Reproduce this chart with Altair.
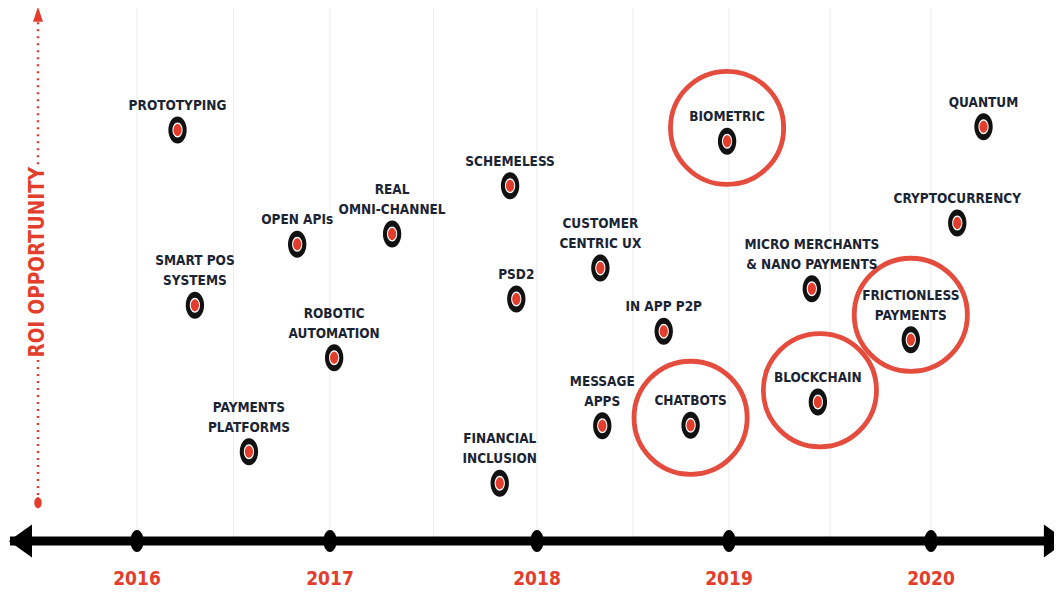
import altair as alt
import pandas as pd

# ---------------- data ----------------
labels = [
    "PROTOTYPING", "SMART POS\nSYSTEMS", "PAYMENTS\nPLATFORMS", "OPEN APIs",
    "ROBOTIC\nAUTOMATION", "REAL\nOMNI-CHANNEL", "SCHEMELESS", "PSD2",
    "FINANCIAL\nINCLUSION", "CUSTOMER\nCENTRIC UX", "MESSAGE\nAPPS",
    "IN APP P2P", "CHATBOTS", "BIOMETRIC", "MICRO MERCHANTS\n& NANO PAYMENTS",
    "BLOCKCHAIN", "FRICTIONLESS\nPAYMENTS", "CRYPTOCURRENCY", "QUANTUM",
]
time_pos = [
    2016.21, 2016.30, 2016.58, 2016.83,
    2017.02, 2017.30, 2017.87, 2017.90,
    2017.82, 2018.33, 2018.34,
    2018.66, 2018.80, 2018.99, 2019.41,
    2019.44, 2019.90, 2020.13, 2020.26,
]
roi = [
    77.4, 44.4, 16.8, 55.9,
    34.5, 57.8, 66.9, 45.6,
    10.9, 51.4, 21.7,
    39.5, 21.8, 75.3, 47.5,
    26.2, 37.9, 59.9, 78.0,
]

highlight_names = ["BIOMETRIC", "CHATBOTS", "BLOCKCHAIN", "FRICTIONLESS PAYMENTS"]
highlight_x = [2018.99, 2018.80, 2019.45, 2019.90]
highlight_y = [77.8, 23.2, 28.4, 42.6]

years = [2016, 2017, 2018, 2019, 2020]
grid_lines = [2016, 2016.5, 2017, 2017.5, 2018, 2018.5, 2019, 2019.5, 2020]

AXIS_START, AXIS_END = 2015.342, 2020.609
ARROW_LEFT, ARROW_RIGHT = 2015.396, 2020.616
ROI_AXIS_X = 2015.487
Y_DOMAIN = [-8.85, 100.38]

# ---------------- styling ----------------
RED = "#e23d2d"
NAVY = "#1b2433"
FONT = "DejaVu Sans Condensed, DejaVu Sans, sans-serif"
YEAR_PX = [129, 322, 529, 721, 923]  # pixel range of the (uneven) time axis

ELLIPSE = "M -0.68 0 A 0.68 1 0 1 0 0.68 0 A 0.68 1 0 1 0 -0.68 0 Z"
TICK_ELLIPSE = "M -0.6 0 A 0.6 1 0 1 0 0.6 0 A 0.6 1 0 1 0 -0.6 0 Z"
LEFT_ARROW = "M 0.7 -1 L -0.7 0 L 0.7 1 Z"
RIGHT_ARROW = "M -0.7 -1 L 0.7 0 L -0.7 1 Z"
UP_ARROW = "M 0 -1 L 0.67 1 L -0.67 1 Z"

xs = alt.Scale(domain=years, range=YEAR_PX, nice=False, zero=False)
ys = alt.Scale(domain=Y_DOMAIN, nice=False, zero=False)


def X(f="x"):
    return alt.X(f"{f}:Q", scale=xs, axis=None)


def Y(f="y"):
    return alt.Y(f"{f}:Q", scale=ys, axis=None)


pts = pd.DataFrame({"label": labels, "x": time_pos, "y": roi})
pts["lines"] = [s.count("\n") + 1 for s in labels]
hl = pd.DataFrame({"name": highlight_names, "x": highlight_x, "y": highlight_y})
yr = pd.DataFrame({"year": [str(v) for v in years], "x": years, "y": [-8.3] * len(years), "y0": [0] * len(years)})
gr = pd.DataFrame({"x": grid_lines, "y": [Y_DOMAIN[1]] * len(grid_lines), "y2": [0] * len(grid_lines)})
axis_df = pd.DataFrame({"x": [AXIS_START], "x2": [AXIS_END], "y": [0]})
left_df = pd.DataFrame({"x": [ARROW_LEFT], "y": [0]})
right_df = pd.DataFrame({"x": [ARROW_RIGHT], "y": [0]})
roi_seg = pd.DataFrame({"x": [ROI_AXIS_X, ROI_AXIS_X], "y": [97.7, 34.1], "y2": [70.8, 8.1]})
roi_tip = pd.DataFrame({"x": [ROI_AXIS_X], "y": [99.2]})
roi_end = pd.DataFrame({"x": [ROI_AXIS_X], "y": [7.2]})
roi_txt = pd.DataFrame({"x": [ROI_AXIS_X], "y": [52.5], "t": ["ROI OPPORTUNITY"]})

grid = alt.Chart(gr).mark_rule(color="#ebebeb", strokeWidth=1).encode(x=X(), y=Y(), y2="y2:Q")

circles = alt.Chart(hl).mark_point(
    shape="circle", filled=False, stroke=RED, strokeWidth=4.8, size=12800, opacity=0.92
).encode(x=X(), y=Y())

axis_line = alt.Chart(axis_df).mark_rule(color="#000000", strokeWidth=9).encode(x=X(), x2="x2:Q", y=Y())

ticks = alt.Chart(yr).mark_point(
    shape=TICK_ELLIPSE, filled=True, color="#000000", size=484, opacity=1
).encode(x=X(), y=Y("y0"))

left_arrow = alt.Chart(left_df).mark_point(
    shape=LEFT_ARROW, filled=True, color="#000000", size=1089, opacity=1
).encode(x=X(), y=Y())
right_arrow = alt.Chart(right_df).mark_point(
    shape=RIGHT_ARROW, filled=True, color="#000000", size=1089, opacity=1
).encode(x=X(), y=Y())

roi_line = alt.Chart(roi_seg).mark_rule(color=RED, strokeWidth=2.5, strokeDash=[2, 5]).encode(
    x=X(), y=Y(), y2="y2:Q"
)
roi_arrow = alt.Chart(roi_tip).mark_point(
    shape=UP_ARROW, filled=True, color=RED, size=225, opacity=1
).encode(x=X(), y=Y())
roi_dot = alt.Chart(roi_end).mark_point(
    shape=ELLIPSE, filled=True, color=RED, size=121, opacity=1
).encode(x=X(), y=Y())
roi_text = alt.Chart(roi_txt).mark_text(
    angle=270, font=FONT, fontSize=20.5, fontWeight="bold", color=RED, align="center", baseline="middle"
).encode(x=X(), y=Y(), text="t:N")

outer = alt.Chart(pts).mark_point(shape=ELLIPSE, filled=True, color="#111111", size=729, opacity=1).encode(
    x=X(), y=Y()
)
ring = alt.Chart(pts).mark_point(shape=ELLIPSE, filled=True, color="#ffffff", size=225, opacity=1).encode(
    x=X(), y=Y()
)
core = alt.Chart(pts).mark_point(shape=ELLIPSE, filled=True, color=RED, size=144, opacity=1).encode(
    x=X(), y=Y()
)


def label_layer(n):
    return alt.Chart(pts).transform_filter(alt.datum.lines == n).mark_text(
        font=FONT, fontSize=13.5, fontWeight="bold", color=NAVY, align="center",
        baseline="alphabetic", dy=-20 - 20 * (n - 1), lineBreak="\n", lineHeight=20
    ).encode(x=X(), y=Y(), text="label:N")


texts1 = label_layer(1)
texts2 = label_layer(2)

year_text = alt.Chart(yr).mark_text(
    font=FONT, fontSize=19, fontWeight="bold", color=RED, align="center", baseline="alphabetic"
).encode(x=X(), y=Y(), text="year:N")

chart = alt.layer(
    grid, circles, axis_line, ticks, left_arrow, right_arrow,
    roi_line, roi_arrow, roi_dot, roi_text,
    outer, ring, core, texts1, texts2, year_text,
).properties(
    width=1046, height=580, padding=0, background="#ffffff",
    autosize=alt.AutoSizeParams(type="none")
).configure_view(strokeWidth=0, stroke="transparent")

chart.save("out.html", embed_options={"renderer": "svg", "actions": False})
